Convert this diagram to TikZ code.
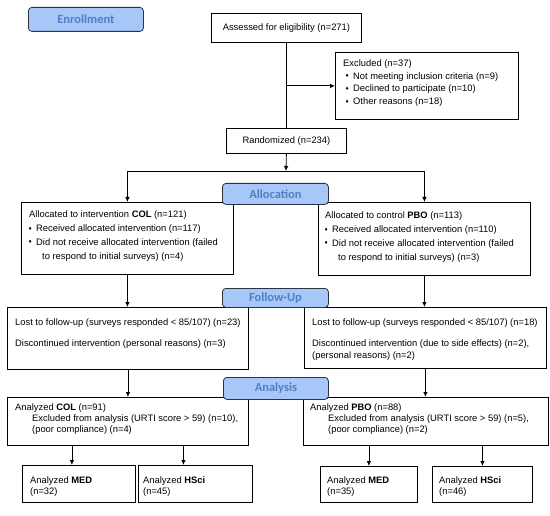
\documentclass[tikz,border=0pt]{standalone}
\usepackage{fontspec}
\setmainfont{Liberation Sans}
\newfontfamily\labelfont{Carlito}
\newfontfamily\symfont{DejaVu Sans}
\usetikzlibrary{arrows.meta}
\definecolor{lblfill}{RGB}{166,199,248}
\definecolor{lbltext}{RGB}{79,129,196}
\definecolor{lbldraw}{RGB}{45,50,65}
\newcommand\dia{\makebox[8bp][l]{\raisebox{1.4bp}{\symfont\scalebox{0.5}{♦}}}}
\begin{document}
\begin{tikzpicture}[x=1bp,y=-1bp,
  box/.style={draw, line width=0.8bp, anchor=north west, inner sep=0pt, font=\fontsize{9.4}{12.7}\selectfont},
  phase/.style={draw=lbldraw, fill=lblfill, rounded corners=3.5bp, line width=0.8bp, anchor=north west, inner sep=0pt, text=lbltext, font=\labelfont\bfseries\fontsize{12.5}{14}\selectfont},
  txt/.style={anchor=north west, inner sep=0pt, align=left, font=\fontsize{9.4}{12.7}\selectfont},
  arr/.style={-{Latex[length=5bp,width=4.5bp]}, line width=0.8bp},
  ln/.style={line width=0.8bp}]
\useasboundingbox (0,0) rectangle (550,516);
% boxes
\node[box, minimum width=150bp, minimum height=29bp] (assess) at (211,13) {Assessed for eligibility (n=271)};
\node[box, minimum width=183bp, minimum height=67bp] (excl) at (335,52) {};
\node[box, minimum width=120bp, minimum height=25bp] (rand) at (226,128) {Randomized (n=234)};
\node[box, minimum width=212bp, minimum height=72bp] (allocL) at (21,202) {};
\node[box, minimum width=212bp, minimum height=73bp] (allocR) at (318,202) {};
\node[box, minimum width=241bp, minimum height=62bp] (followL) at (7,307) {};
\node[box, minimum width=242bp, minimum height=61bp] (followR) at (304,307) {};
\node[box, minimum width=241bp, minimum height=48bp] (anaL) at (7,397) {};
\node[box, minimum width=245bp, minimum height=48bp] (anaR) at (303,397) {};
\node[box, minimum width=113bp, minimum height=37bp] (medL) at (22,465) {};
\node[box, minimum width=114bp, minimum height=37bp] (hsciL) at (138,465) {};
\node[box, minimum width=97bp, minimum height=36bp] (medR) at (320,466) {};
\node[box, minimum width=100bp, minimum height=36bp] (hsciR) at (432,466) {};
% texts
\node[txt] (exclT) at (343,59.5) {Excluded (n=37)\\
\hspace*{2bp}\dia Not meeting inclusion criteria (n=9)\\
\hspace*{2bp}\dia Declined to participate (n=10)\\
\hspace*{2bp}\dia Other reasons (n=18)};
\node[txt, font=\fontsize{9.4}{14}\selectfont] (allocLT) at (29,210.5) {Allocated to intervention \textbf{COL} (n=121)\\
\hspace*{-1bp}\dia Received allocated intervention (n=117)\\
\hspace*{-1bp}\dia Did not receive allocated intervention (failed\\
\hspace*{13bp}to respond to initial surveys) (n=4)};
\node[txt, font=\fontsize{9.4}{14}\selectfont] (allocRT) at (325,211.5) {Allocated to control \textbf{PBO} (n=113)\\
\hspace*{-1bp}\dia Received allocated intervention (n=110)\\
\hspace*{-1bp}\dia Did not receive allocated intervention (failed\\
\hspace*{13bp}to respond to initial surveys) (n=3)};
\node[txt, font=\fontsize{9.4}{12}\selectfont] (followLT) at (15,318.5) {Lost to follow-up (surveys responded < 85/107) (n=23)\\[9bp]
Discontinued intervention (personal reasons) (n=3)};
\node[txt, font=\fontsize{9.4}{12}\selectfont] (followRT) at (312,318.5) {Lost to follow-up (surveys responded < 85/107) (n=18)\\[9bp]
Discontinued intervention (due to side effects) (n=2),\\
(personal reasons) (n=2)};
\node[txt, font=\fontsize{9.4}{11}\selectfont] (anaLT) at (15,403.5) {Analyzed \textbf{COL} (n=91)\\
\hspace*{17bp}Excluded from analysis (URTI score > 59) (n=10),\\
\hspace*{17bp}(poor compliance) (n=4)};
\node[txt, font=\fontsize{9.4}{11}\selectfont] (anaRT) at (310,403.5) {Analyzed \textbf{PBO} (n=88)\\
\hspace*{18bp}Excluded from analysis (URTI score > 59) (n=5),\\
\hspace*{18bp}(poor compliance) (n=2)};
\node[txt, font=\fontsize{9.4}{11}\selectfont] (medLT) at (30,476.5) {Analyzed \textbf{MED}\\(n=32)};
\node[txt, font=\fontsize{9.4}{11}\selectfont] (hsciLT) at (143,476.5) {Analyzed \textbf{HSci}\\(n=45)};
\node[txt, font=\fontsize{9.4}{11}\selectfont] (medRT) at (327,476.5) {Analyzed \textbf{MED}\\(n=35)};
\node[txt, font=\fontsize{9.4}{11}\selectfont] (hsciRT) at (439,476.5) {Analyzed \textbf{HSci}\\(n=46)};
% phase labels
\node[phase, minimum width=115bp, minimum height=24bp] (enroll) at (28,7) {Enrollment};
\node[phase, minimum width=106bp, minimum height=21bp] (allocP) at (222,183) {Allocation};
\node[phase, minimum width=106bp, minimum height=19bp] (followP) at (222,288) {Follow-Up};
\node[phase, minimum width=105bp, minimum height=22bp] (anaP) at (223,377) {Analysis};
% connectors
\draw[ln] (assess.south) -- (rand.north);
\coordinate (exbr) at (assess.south |- excl.west);
\draw[arr] (exbr) -- (excl.west);
\coordinate (split) at (286,171);
\draw[arr] (rand.south) -- (split);
\draw[ln] (allocL.north |- split) -- (allocR.north |- split);
\draw[arr] (allocL.north |- split) -- (allocL.north);
\draw[arr] (allocR.north |- split) -- (allocR.north);
\draw[arr] (allocL.south) -- (allocL.south |- followL.north);
\draw[arr] (allocR.south) -- (allocR.south |- followR.north);
\draw[arr] (followL.south) -- (followL.south |- anaL.north);
\draw[arr] (followR.south) -- (followR.south |- anaR.north);
\draw[arr] ([xshift=-7bp]medL.north |- anaL.south) -- ([xshift=-7bp]medL.north);
\draw[arr] ([xshift=-12bp]hsciL.north |- anaL.south) -- ([xshift=-12bp]hsciL.north);
\draw[arr] (medR.north |- anaR.south) -- (medR.north);
\draw[arr] (hsciR.north |- anaR.south) -- (hsciR.north);
\end{tikzpicture}
\end{document}
